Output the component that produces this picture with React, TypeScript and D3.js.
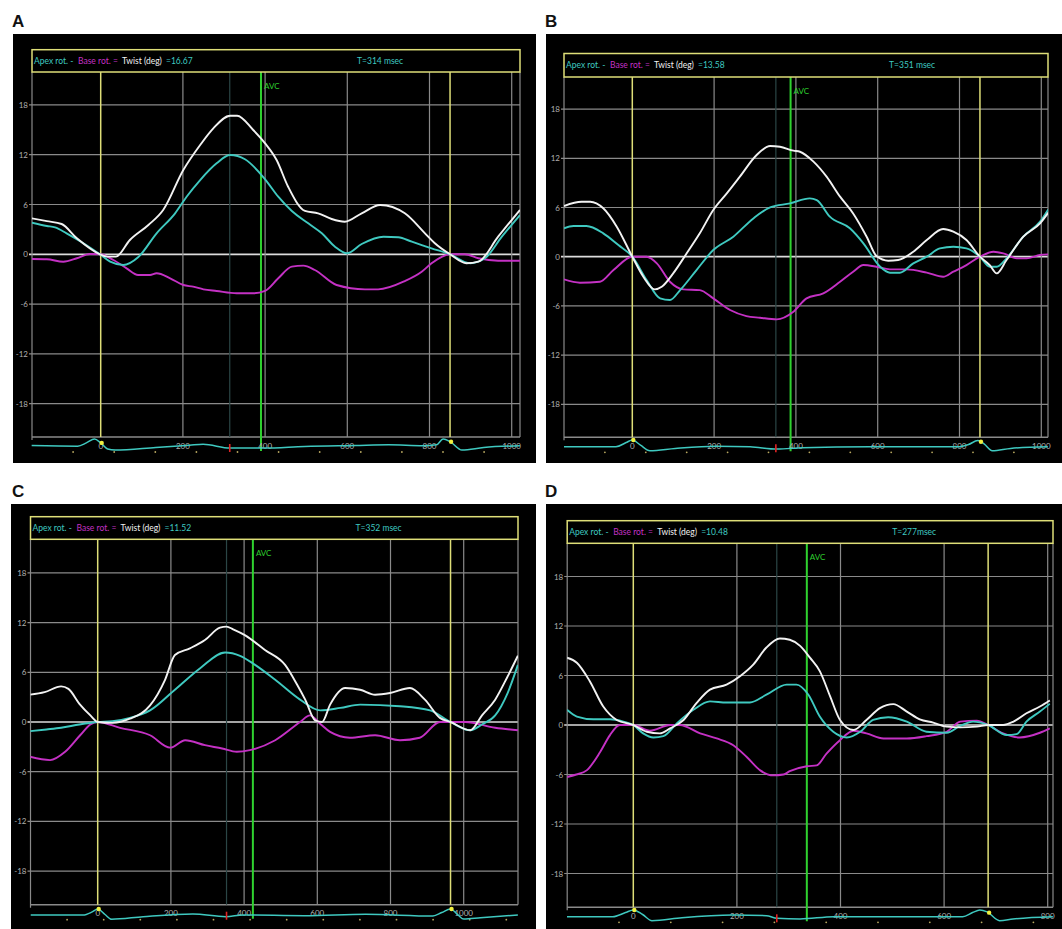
import React from 'react';
import * as d3 from 'd3';

type Pt = [number, number];

// ---------- shared tick values ----------
const Y_TICKS = [-18, -12, -6, 0, 6, 12, 18];
const X_TICKS_A = [0, 200, 400, 600, 800, 1000];
const X_TICKS_B = [0, 200, 400, 600, 800, 1000];
const X_TICKS_C = [0, 200, 400, 600, 800, 1000];
const X_TICKS_D = [0, 200, 400, 600, 800];

// ---------- panel A ----------
const A_TWIST: Pt[] = [[-168,4.34],[-131,4.0],[-95,3.65],[-58,1.93],[-2,0],[15,-0.28],[37,-0.28],[71,1.72],[116,3.53],[152,5.34],[201,10.16],[242,13.17],[274,15.18],[315,16.7],[332,16.7],[371,14.98],[400,13.37],[428,11.36],[456,8.14],[497,5.22],[529,4.94],[562,4.25],[594,3.93],[635,4.94],[680,5.94],[740,4.94],[789,2.53],[813,1.33],[850,0],[890,-1.08],[919,-0.89],[967,2.12],[1020,5.34]];
const A_APEX: Pt[] = [[-168,3.81],[-131,3.41],[-111,3.25],[-83,2.53],[-42,1.33],[-2,0],[23,-0.89],[55,-1.29],[91,-0.36],[136,2.53],[181,4.94],[209,6.94],[242,8.95],[282,10.96],[315,11.96],[351,11.45],[400,9.04],[432,6.94],[465,5.22],[505,3.73],[538,2.53],[570,0.92],[599,0.12],[635,1.24],[688,2.12],[724,2.05],[757,1.52],[805,0.72],[850,0],[899,-1.08],[935,-0.48],[976,2.12],[1020,4.73]];
const A_BASE: Pt[] = [[-168,-0.57],[-131,-0.6],[-91,-0.89],[-58,-0.48],[-26,0.04],[0,0],[31,-0.69],[63,-1.69],[91,-2.49],[120,-2.49],[136,-2.29],[169,-2.89],[201,-3.7],[225,-3.9],[250,-4.22],[282,-4.42],[331,-4.7],[371,-4.7],[400,-4.4],[432,-2.89],[465,-1.49],[493,-1.37],[521,-1.89],[574,-3.7],[643,-4.22],[675,-4.22],[740,-3.22],[781,-2.1],[805,-1.08],[850,0],[886,0],[919,-0.48],[967,-0.77],[1020,-0.77]];
const A_ECG: Pt[] = [[-168,0],[-56,-0.1],[-35,0.4],[-15,1],[0,0.4],[17,-0.55],[35,-0.7],[134,-0.3],[216,0.05],[249,0.2],[315,-0.4],[397,-0.4],[496,-0.15],[619,0],[701,0.1],[784,-0.05],[817,0.1],[833,1],[851,0.55],[879,-0.7],[932,-0.3],[1020,-0.05]];
const A_HEADER = { twist: '=16.67', t: 'T=314 msec' };
const A_EVENTS = { t: 314, avc: 390, marks: [0, 850] };

// ---------- panel B ----------
const B_TWIST: Pt[] = [[-167,6.18],[-124,6.7],[-103,6.7],[-71,5.9],[-38,3.66],[0,0],[27,-2.44],[55,-3.98],[72,-3.66],[100,-2.03],[133,0.41],[165,2.85],[198,5.69],[231,7.72],[263,9.76],[304,12.4],[337,13.5],[361,13.41],[394,12.93],[410,12.8],[443,11.59],[475,9.76],[508,7.32],[540,5.28],[573,2.44],[597,0.08],[626,-0.49],[650,-0.41],[687,0.61],[720,2.03],[760,3.37],[785,3.05],[817,2.03],[850,0],[874,-1.02],[891,-2.03],[915,-0.41],[956,2.44],[997,4.07],[1017,5.37]];
const B_APEX: Pt[] = [[-167,3.46],[-144,3.74],[-112,3.74],[-71,2.85],[-34,1.42],[0,0],[35,-2.85],[68,-5.08],[92,-5.28],[117,-4.07],[157,-1.63],[198,0.81],[247,2.44],[296,4.67],[337,6.02],[386,6.5],[434,7.11],[451,6.91],[483,4.88],[532,3.46],[565,1.63],[606,-1.22],[630,-1.95],[654,-1.95],[687,-0.81],[720,0],[752,1.02],[785,1.22],[817,1.02],[850,0],[874,-1.22],[891,-1.22],[915,-0.2],[956,2.44],[997,4.27],[1017,5.77]];
const B_BASE: Pt[] = [[-167,-2.76],[-128,-3.17],[-79,-3.05],[-46,-1.63],[0,0],[35,0],[60,-0.81],[92,-3.05],[125,-3.98],[165,-4.07],[198,-5.08],[239,-6.5],[279,-7.24],[312,-7.44],[353,-7.64],[394,-6.71],[426,-5.08],[467,-4.47],[508,-3.05],[540,-1.83],[565,-1.02],[597,-1.22],[630,-1.54],[671,-1.54],[720,-1.95],[760,-2.44],[785,-1.83],[817,-1.02],[850,0],[883,0.61],[907,0.41],[940,-0.2],[964,-0.2],[997,0.2],[1017,0.28]];
const B_ECG: Pt[] = [[-167,-0.15],[-40,-0.15],[-15,0.5],[0,0.9],[20,0.1],[43,-0.75],[105,-0.4],[205,-0.05],[288,-0.15],[354,-0.5],[416,-0.3],[582,-0.15],[800,-0.15],[822,0.2],[845,0.8],[860,0.3],[880,-0.75],[925,-0.4],[1016,-0.15]];
const B_HEADER = { twist: '=13.58', t: 'T=351 msec' };
const B_EVENTS = { t: 351, avc: 387, marks: [0, 850] };

// ---------- panel C ----------
const C_TWIST: Pt[] = [[-185,3.3],[-145,3.6],[-100,4.3],[-80,4.0],[-50,2.2],[-20,0.8],[0,0],[40,-0.1],[88,0.4],[143,2.0],[184,5.1],[211,8.1],[252,8.9],[293,9.9],[334,11.4],[352,11.52],[370,11.2],[402,10.5],[457,8.7],[512,6.9],[545,4.5],[567,2.7],[594,0.2],[613,0],[635,2.1],[676,4.1],[717,3.9],[758,3.3],[799,3.5],[853,4.1],[894,2.7],[935,0.5],[964,0],[1018,-1.0],[1050,0.8],[1086,2.7],[1120,5.5],[1148,8.0]];
const C_APEX: Pt[] = [[-185,-1.1],[-140,-0.9],[-100,-0.7],[-50,-0.3],[0,0],[40,0.1],[88,0.5],[143,1.4],[211,3.9],[280,6.5],[348,8.4],[389,8.0],[430,6.9],[485,5.1],[553,2.7],[608,1.4],[663,1.7],[717,2.1],[826,1.9],[908,1.4],[964,0],[1018,-1.0],[1050,-0.3],[1086,0.8],[1120,3.5],[1148,6.9]];
const C_BASE: Pt[] = [[-185,-4.2],[-130,-4.6],[-89,-3.6],[-48,-1.6],[-20,-0.3],[0,0],[61,-0.7],[143,-1.6],[198,-3.1],[239,-2.2],[293,-2.8],[340,-3.2],[380,-3.6],[416,-3.4],[485,-2.2],[553,0],[580,0.8],[610,-0.3],[635,-1.2],[689,-1.9],[758,-1.6],[826,-2.2],[880,-1.9],[935,0],[964,0],[1004,0],[1086,-0.7],[1148,-1.0]];
const C_ECG: Pt[] = [[-183,-0.28],[-40,-0.28],[-15,0.2],[0,0.65],[20,-0.2],[38,-0.94],[124,-0.54],[260,-0.12],[350,-0.54],[398,-0.28],[565,-0.38],[732,-0.17],[916,-0.43],[940,0.1],[964,0.65],[985,-0.3],[1000,-0.9],[1046,-0.69],[1148,-0.28]];
const C_HEADER = { twist: '=11.52', t: 'T=352 msec' };
const C_EVENTS = { t: 352, avc: 424, marks: [0, 964] };

// ---------- panel D ----------
const D_TWIST: Pt[] = [[-128,8.16],[-109,7.55],[-84,5.31],[-58,2.24],[-32,0.61],[0,0],[26,-0.82],[51,-1.02],[71,-0.41],[97,0.61],[122,2.65],[148,4.29],[180,4.9],[206,5.92],[232,7.35],[257,9.39],[283,10.49],[302,10.33],[322,9.59],[341,8.16],[360,6.53],[380,3.47],[399,0.61],[425,-0.61],[450,0.61],[476,2.04],[502,2.53],[528,1.63],[553,0.69],[579,0.29],[605,-0.2],[631,-0.29],[663,-0.2],[685,0],[714,0],[734,0.41],[759,1.43],[785,2.24],[804,2.98]];
const D_APEX: Pt[] = [[-128,1.84],[-109,1.02],[-77,0.69],[-45,0.69],[-19,0.41],[0,0],[19,-1.02],[39,-1.51],[58,-1.35],[84,0.2],[116,1.84],[148,2.86],[180,2.73],[225,2.73],[257,3.67],[296,4.9],[315,4.9],[338,3.67],[360,1.02],[386,-0.82],[412,-1.51],[438,-0.82],[463,0.61],[492,0.94],[528,0.41],[566,-0.82],[605,-0.94],[631,-0.12],[656,0.41],[685,0],[721,-1.22],[740,-1.1],[759,0.41],[785,1.63],[804,2.57]];
const D_BASE: Pt[] = [[-128,-6.3],[-110,-6.0],[-90,-5.5],[-64,-3.27],[-45,-1.22],[-26,0],[0,0],[32,-0.69],[71,0],[90,0],[129,-1.02],[161,-1.63],[193,-2.45],[219,-3.88],[245,-5.5],[270,-6.1],[290,-6.0],[302,-5.6],[335,-5.0],[354,-4.9],[373,-3.47],[399,-1.84],[425,-0.69],[450,-1.02],[483,-1.63],[528,-1.63],[566,-1.35],[605,-0.82],[631,0.41],[663,0.53],[685,0],[714,-1.02],[746,-1.51],[785,-0.94],[804,-0.41]];
const D_ECG: Pt[] = [[-128,-0.14],[-40,-0.14],[-15,0.5],[0,0.9],[18,0.2],[36,-0.75],[94,-0.29],[192,0.12],[257,0.02],[277,-0.38],[322,-0.49],[387,-0.14],[583,-0.14],[636,-0.14],[655,0.5],[669,0.9],[683,0.6],[707,-0.75],[733,-0.49],[810,-0.14]];
const D_HEADER = { twist: '=10.48', t: 'T=277msec' };
const D_EVENTS = { t: 277, avc: 335, marks: [0, 685] };

// ---------- layout (pixels) ----------
const LAYOUTS = {
  A: { bg: [13, 34, 523, 429], letter: [12, 27], hTop: 49.7, hBot: 72, left: 32, right: 520, x0: 100.7, k: 0.411, y0: 254.3, ppd: 8.3, bottom: 437 },
  B: { bg: [546, 34, 516, 429], letter: [545, 27], hTop: 53.5, hBot: 77, left: 564, right: 1048, x0: 632.3, k: 0.409, y0: 256.7, ppd: 8.2, bottom: 437.3 },
  C: { bg: [11, 504, 525, 425], letter: [12, 497], hTop: 516.7, hBot: 539.3, left: 30.5, right: 518, x0: 97.7, k: 0.366, y0: 722, ppd: 8.28, bottom: 904.7 },
  D: { bg: [546, 504, 516, 425], letter: [545, 497], hTop: 520.7, hBot: 543.3, left: 567.2, right: 1053, x0: 633.3, k: 0.518, y0: 725, ppd: 8.25, bottom: 907.3 },
};

const PANELS = [
  { id: 'A', L: LAYOUTS.A, twist: A_TWIST, apex: A_APEX, base: A_BASE, ecg: A_ECG, header: A_HEADER, ev: A_EVENTS, xt: X_TICKS_A },
  { id: 'B', L: LAYOUTS.B, twist: B_TWIST, apex: B_APEX, base: B_BASE, ecg: B_ECG, header: B_HEADER, ev: B_EVENTS, xt: X_TICKS_B },
  { id: 'C', L: LAYOUTS.C, twist: C_TWIST, apex: C_APEX, base: C_BASE, ecg: C_ECG, header: C_HEADER, ev: C_EVENTS, xt: X_TICKS_C },
  { id: 'D', L: LAYOUTS.D, twist: D_TWIST, apex: D_APEX, base: D_BASE, ecg: D_ECG, header: D_HEADER, ev: D_EVENTS, xt: X_TICKS_D },
];

const CYAN = '#3fc9c0';
const MAGENTA = '#c431c4';
const WHITE = '#f2f2f2';
const YELLOW = '#dede78';
const GREEN = '#2fd22f';
const GRID = '#8a8a8a';
const LABEL = '#b0b0b0';
const FONT = "Lato, 'Open Sans', sans-serif";

function interpAt(arr: Pt[], ms: number): number {
  for (let i = 1; i < arr.length; i++) {
    if (arr[i][0] >= ms) {
      const [a, va] = arr[i - 1];
      const [b, vb] = arr[i];
      return va + ((vb - va) * (ms - a)) / (b - a);
    }
  }
  return arr[arr.length - 1][1];
}

function Panel({ p }: { p: any }) {
  const L = p.L;
  const msL = (L.left - L.x0) / L.k;
  const msR = (L.right - L.x0) / L.k;
  const x = d3.scaleLinear().domain([msL, msR]).range([L.left, L.right]);
  const y = d3.scaleLinear().domain([0, 6]).range([L.y0, L.y0 - 6 * L.ppd]);
  const st = L.bottom;
  const ey = d3.scaleLinear().domain([-1, 1]).range([st + 15, st + 2]);
  const line = d3.line<Pt>().x((d) => x(d[0])).y((d) => y(d[1])).curve(d3.curveMonotoneX);
  const eline = d3.line<Pt>().x((d) => x(d[0])).y((d) => ey(d[1])).curve(d3.curveMonotoneX);
  const clipId = 'clip' + p.id;
  const dots: number[] = [];
  for (let m = msL + 100; m < msR; m += 100) dots.push(m);
  const hMid = (L.hTop + L.hBot) / 2 + 3;
  const [bx, by, bw, bh] = L.bg;
  return (
    <g>
      <rect x={bx} y={by} width={bw} height={bh} fill="#000" />
      <text x={L.letter[0]} y={L.letter[1]} fontFamily="'Liberation Sans', Arial, sans-serif" fontWeight="bold" fontSize={17} fill="#111">{p.id}</text>
      <defs>
        <clipPath id={clipId}>
          <rect x={L.left} y={L.hBot} width={L.right - L.left} height={st - L.hBot} />
        </clipPath>
      </defs>
      {/* horizontal grid */}
      {Y_TICKS.map((t) => (
        <g key={'y' + t}>
          <line x1={L.left - 3} x2={L.right} y1={y(t)} y2={y(t)} stroke={t === 0 ? '#dcdcdc' : GRID} strokeWidth={t === 0 ? 1.7 : 1.2} />
          <text x={L.left - 4} y={y(t) + 3} textAnchor="end" fontFamily={FONT} fontSize={8} fill={LABEL}>{t}</text>
        </g>
      ))}
      {/* vertical grid */}
      {p.xt.filter((t: number) => t !== 0).map((t: number) => (
        <line key={'x' + t} x1={x(t)} x2={x(t)} y1={L.hBot} y2={st} stroke={GRID} strokeWidth={1.2} />
      ))}
      <line x1={L.left} x2={L.left} y1={L.hBot} y2={st + 3} stroke={GRID} strokeWidth={1.2} />
      <line x1={L.right} x2={L.right} y1={L.hBot} y2={st} stroke={GRID} strokeWidth={1.2} />
      <line x1={L.left} x2={L.right} y1={st} y2={st} stroke={GRID} strokeWidth={1.4} />
      {/* event lines */}
      <line x1={x(p.ev.t)} x2={x(p.ev.t)} y1={L.hBot} y2={st} stroke="#2b4646" strokeWidth={1.2} />
      {p.ev.marks.map((m: number) => (
        <line key={'m' + m} x1={x(m)} x2={x(m)} y1={L.hBot} y2={st} stroke={YELLOW} strokeWidth={1.5} />
      ))}
      <line x1={x(p.ev.avc)} x2={x(p.ev.avc)} y1={L.hBot} y2={st + 14} stroke={GREEN} strokeWidth={2} />
      <text x={x(p.ev.avc) + 3} y={L.hBot + 17} fontFamily={FONT} fontSize={8} fill={GREEN}>AVC</text>
      {/* curves */}
      <g clipPath={`url(#${clipId})`} fill="none" strokeWidth={1.9} strokeLinejoin="round">
        <path d={line(p.base) || ''} stroke={MAGENTA} />
        <path d={line(p.apex) || ''} stroke={CYAN} />
        <path d={line(p.twist) || ''} stroke={WHITE} />
      </g>
      {/* header */}
      <rect x={L.left} y={L.hTop} width={L.right - L.left} height={L.hBot - L.hTop} fill="none" stroke={YELLOW} strokeWidth={1.5} />
      <text y={hMid} fontFamily={FONT} fontSize={8.5}>
        <tspan x={L.left + 2} fill={CYAN}>Apex rot. -</tspan>
        <tspan x={L.left + 46} fill={MAGENTA}>Base rot. =</tspan>
        <tspan x={L.left + 90} fill={WHITE}>Twist  (deg)</tspan>
        <tspan x={L.left + 134} fill={CYAN}>{p.header.twist}</tspan>
        <tspan x={L.left + 325} fill={CYAN}>{p.header.t}</tspan>
      </text>
      {/* bottom strip */}
      {p.xt.map((t: number) => (
        <text key={'xl' + t} x={x(t)} y={st + 11.5} textAnchor="middle" fontFamily={FONT} fontSize={8} fill={LABEL}>{t}</text>
      ))}
      {dots.map((m) => (
        <circle key={'d' + m} cx={x(m)} cy={st + 15} r={0.9} fill="#b8a860" />
      ))}
      <path d={eline(p.ecg) || ''} fill="none" stroke={CYAN} strokeWidth={1.5} />
      <line x1={x(p.ev.t)} x2={x(p.ev.t)} y1={st + 7} y2={st + 15} stroke="#e02424" strokeWidth={1.6} />
      {p.ev.marks.map((m: number) => (
        <circle key={'ym' + m} cx={x(m) + 1} cy={ey(interpAt(p.ecg, m))} r={2.2} fill="#f0f040" />
      ))}
    </g>
  );
}

export default function App() {
  return (
    <svg width={1062} height={929} style={{ position: 'absolute', left: 0, top: 0, background: '#fff', display: 'block' }}>
      <rect x={0} y={0} width={1062} height={929} fill="#fff" />
      {PANELS.map((p) => (
        <Panel key={p.id} p={p} />
      ))}
    </svg>
  );
}
